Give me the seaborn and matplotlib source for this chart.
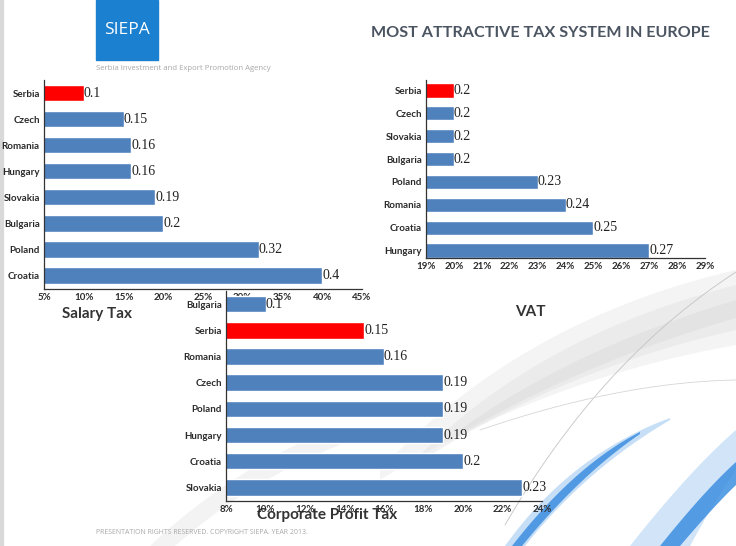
import numpy as np
import pandas as pd
import matplotlib
matplotlib.use("Agg")
import matplotlib.pyplot as plt
from matplotlib.ticker import FuncFormatter, MultipleLocator
import seaborn as sns

# ---- data ----
salary_countries = ["Serbia", "Czech", "Romania", "Hungary", "Slovakia", "Bulgaria", "Poland", "Croatia"]
salary_values = [0.10, 0.15, 0.16, 0.16, 0.19, 0.20, 0.32, 0.40]

vat_countries = ["Serbia", "Czech", "Slovakia", "Bulgaria", "Poland", "Romania", "Croatia", "Hungary"]
vat_values = [0.20, 0.20, 0.20, 0.20, 0.23, 0.24, 0.25, 0.27]

corp_countries = ["Bulgaria", "Serbia", "Romania", "Czech", "Poland", "Hungary", "Croatia", "Slovakia"]
corp_values = [0.10, 0.15, 0.16, 0.19, 0.19, 0.19, 0.20, 0.23]

title = "MOST ATTRACTIVE TAX SYSTEM IN EUROPE"
footer = "PRESENTATION RIGHTS RESERVED. COPYRIGHT SIEPA. YEAR 2013."

BLUE = "#4f81bd"
RED = "#ff0000"

sns.set_theme(style="white")
plt.rcParams["font.family"] = ["Lato", "DejaVu Sans"]

W, H = 736, 546
fig = plt.figure(figsize=(W / 100, H / 100), dpi=100)
fig.patch.set_facecolor("white")

# ---- background swooshes (decoration) ----
bg = fig.add_axes([0, 0, 1, 1], zorder=-10)
bg.set_xlim(0, W)
bg.set_ylim(H, 0)
bg.axis("off")
t = np.linspace(0, 1, 200)


def quad(p0, p1, p2):
    xs = (1 - t) ** 2 * p0[0] + 2 * (1 - t) * t * p1[0] + t ** 2 * p2[0]
    ys = (1 - t) ** 2 * p0[1] + 2 * (1 - t) * t * p1[1] + t ** 2 * p2[1]
    return xs, ys


def band(a, b, color, alpha):
    xa, ya = quad(*a)
    xb, yb = quad(*b)
    bg.fill(np.r_[xa, xb[::-1]], np.r_[ya, yb[::-1]], color=color, alpha=alpha, lw=0)


# gray swooshes (soft, layered)
band(((380, 470), (520, 320), (736, 270)), ((380, 480), (540, 380), (736, 345)), "#ececec", 0.55)
band(((420, 455), (540, 335), (736, 285)), ((420, 462), (560, 370), (736, 330)), "#e2e2e2", 0.45)
band(((460, 430), (570, 350), (736, 300)), ((460, 434), (585, 362), (736, 318)), "#d6d6d6", 0.35)
band(((150, 546), (230, 470), (330, 430)), ((175, 546), (250, 480), (340, 445)), "#f0f0f0", 0.8)
xs, ys = quad((505, 525), (600, 360), (736, 272))
bg.plot(xs, ys, color="#c4c4c4", lw=0.6)
xs, ys = quad((480, 430), (620, 382), (736, 380))
bg.plot(xs, ys, color="#d6d6d6", lw=0.6)
# blue streaks
band(((505, 546), (570, 455), (670, 418)), ((525, 546), (585, 470), (670, 420)), "#b3d3f4", 0.75)
band(((512, 546), (575, 465), (640, 432)), ((522, 546), (580, 475), (640, 434)), "#3d8fe0", 0.85)
band(((630, 546), (690, 470), (736, 430)), ((690, 546), (715, 500), (736, 470)), "#c2dcf6", 0.75)
band(((660, 546), (705, 490), (736, 462)), ((680, 546), (715, 505), (736, 485)), "#3d8fe0", 0.85)
bg.plot([1.5, 1.5], [0, H], color="#d9d9d9", lw=3)

# ---- logo / title ----
bg.add_patch(plt.Rectangle((96, 0), 62, 60, color="#1b80d0"))
bg.text(127, 30, "SIEPA", color="white", fontsize=12.5, ha="center", va="center",
        family=["Open Sans", "DejaVu Sans"])
bg.text(96, 69, "Serbia Investment and Export Promotion Agency", color="#a8a8a8",
        fontsize=5.6, ha="left", va="center", family=["Open Sans", "DejaVu Sans"])
bg.text(710, 33, title, color="#4b5461", fontsize=11.6, fontweight="bold",
        ha="right", va="center")
bg.text(96, 532, footer, color="#a9a9a9", fontsize=5, ha="left", va="center",
        family=["Open Sans", "DejaVu Sans"])


def panel(rect, cats, vals, xlim, step, ylim, label, label_xy, label_ha="left"):
    ax = fig.add_axes(rect)
    ax.patch.set_alpha(0)
    df = pd.DataFrame({"country": cats, "value": vals})
    colors = {c: (RED if c == "Serbia" else BLUE) for c in cats}
    sns.barplot(data=df, x="value", y="country", hue="country", palette=colors,
                legend=False, width=0.63, saturation=1, ax=ax, orient="h")
    for cont in ax.containers:
        ax.bar_label(cont, fmt="%g", padding=0, fontsize=10,
                     family=["Liberation Serif", "DejaVu Serif"], color="#222222")
    ax.set_xlim(*xlim)
    ax.set_ylim(*ylim)
    ax.xaxis.set_major_locator(MultipleLocator(step))
    ax.xaxis.set_major_formatter(FuncFormatter(lambda v, p: f"{round(v * 100)}%"))
    ax.set_xlabel("")
    ax.set_ylabel("")
    for s in ["top", "right"]:
        ax.spines[s].set_visible(False)
    for s in ["left", "bottom"]:
        ax.spines[s].set_color("#333333")
        ax.spines[s].set_linewidth(0.9)
    ax.tick_params(axis="both", length=0, labelsize=7, labelcolor="#2b2b2b")
    ax.tick_params(axis="x", pad=3)
    ax.tick_params(axis="y", pad=3)
    for tl in ax.get_xticklabels() + ax.get_yticklabels():
        tl.set_fontweight("bold")
    bg.text(label_xy[0], label_xy[1], label, fontsize=11, fontweight="bold",
            color="#333333", ha=label_ha, va="center", zorder=5)
    return ax


panel([44 / W, 1 - 288.5 / H, 318 / W, 208.5 / H], salary_countries, salary_values,
      (0.05, 0.45), 0.05, (7.5, -0.5), "Salary Tax", (62, 314))
panel([426 / W, 1 - 258 / H, 279 / W, 178 / H], vat_countries, vat_values,
      (0.19, 0.29), 0.01, (7.32, -0.45), "VAT", (530, 312), "center")
panel([226 / W, 1 - 500.5 / H, 316 / W, 209.5 / H], corp_countries, corp_values,
      (0.08, 0.24), 0.02, (7.5, -0.5), "Corporate Profit Tax", (327, 515), "center")

fig.savefig("out.png", dpi=100, facecolor="white")
